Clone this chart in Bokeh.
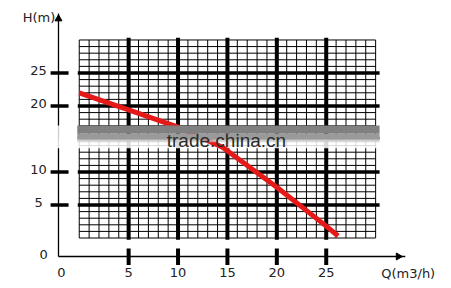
from bokeh.plotting import figure
from bokeh.models import Range1d
from bokeh.core.properties import value
from bokeh.embed import file_html
from bokeh.resources import INLINE

# ---------------- data ----------------
flow_q = [0.0, 5.0, 10.0, 14.5, 20.0, 25.0, 26.2]
head_h = [22.0, 19.4, 16.8, 13.75, 7.7, 1.8, 0.3]
x_ticks = [5, 10, 15, 20, 25]
x_labels = ["5", "10", "15", "20", "25"]
y_ticks = [5, 10, 20, 25]
y_labels = ["5", "10", "20", "25"]
origin_label = "0"
grid_max = 30
major_step = 5
x_title = "Q(m3/h)"
y_title = "H(m)"
watermark = "trade.china.cn"

# ---------------- layout constants (data units) ----------------
AX_X = -2.1      # position of the drawn y axis line
AX_Y = -2.8      # position of the drawn x axis line
FONT = value("DejaVu Sans")
TXT = "#222222"

p = figure(width=451, height=288,
           x_range=Range1d(-7.97, 37.68), y_range=Range1d(-7.65, 35.98),
           output_backend="svg", toolbar_location=None,
           x_axis_location=None, y_axis_location=None,
           min_border=0, outline_line_color=None,
           background_fill_color="white", border_fill_color="white")
for g in p.grid:
    g.visible = False

# ---------------- grid ----------------
cells = list(range(0, grid_max + 1))
thin = [v for v in cells if v % major_step != 0 or v in (0, grid_max)]
thick = [v for v in cells if v % major_step == 0 and 0 < v < grid_max]

p.segment(x0=thin, y0=[0] * len(thin), x1=thin, y1=[grid_max] * len(thin),
          line_color="black", line_width=1)
p.segment(x0=[0] * len(thin), y0=thin, x1=[grid_max] * len(thin), y1=thin,
          line_color="black", line_width=1)
p.segment(x0=thick, y0=[-0.25] * len(thick), x1=thick, y1=[grid_max + 0.35] * len(thick),
          line_color="black", line_width=4)
p.segment(x0=[-0.15] * len(thick), y0=thick, x1=[grid_max + 0.4] * len(thick), y1=thick,
          line_color="black", line_width=3.5)

# ---------------- axes ----------------
p.segment(x0=[AX_X], y0=[AX_Y], x1=[AX_X], y1=[34.0], line_color="black", line_width=1.3)
p.segment(x0=[AX_X], y0=[AX_Y], x1=[33.0], y1=[AX_Y], line_color="black", line_width=1.3)
p.scatter(x=[AX_X], y=[33.2], marker="triangle", size=7, fill_color="black", line_color="black")
p.scatter(x=[32.3], y=[AX_Y], marker="triangle", angle=-1.5708, size=7,
          fill_color="black", line_color="black")

p.segment(x0=x_ticks, y0=[-1.6] * len(x_ticks), x1=x_ticks, y1=[-4.1] * len(x_ticks),
          line_color="black", line_width=4)
p.segment(x0=[-2.9] * len(y_ticks), y0=y_ticks, x1=[-1.08] * len(y_ticks), y1=y_ticks,
          line_color="black", line_width=3.5)

p.text(x=x_ticks, y=[-5.23] * len(x_ticks), text=x_labels, text_font=FONT,
       text_font_size="13px", text_align="center", text_baseline="middle", text_color=TXT)
p.text(x=[-4.12] * len(y_ticks), y=[t + 0.45 for t in y_ticks], text=y_labels, text_font=FONT,
       text_font_size="13px", text_align="center", text_baseline="middle", text_color=TXT)
p.text(x=[-1.8, -3.6], y=[-5.23, -2.5], text=[origin_label, origin_label], text_font=FONT,
       text_font_size="13px", text_align="center", text_baseline="middle", text_color=TXT)
p.text(x=[-4.07], y=[33.4], text=[y_title], text_font=FONT, text_font_size="13px",
       text_align="center", text_baseline="middle", text_color=TXT)
p.text(x=[33.3], y=[-5.4], text=[x_title], text_font=FONT, text_font_size="13px",
       text_align="center", text_baseline="middle", text_color=TXT)

# ---------------- watermark fade (under curve) ----------------
p.quad(left=[-3.2], right=[30.6], bottom=[13.6], top=[15.0],
       fill_color="white", fill_alpha=0.85, line_color=None)
p.quad(left=[-3.2], right=[-0.3], bottom=[15.0], top=[17.05],
       fill_color="white", fill_alpha=0.8, line_color=None)

# ---------------- curve ----------------
p.line(x=flow_q, y=head_h, line_color="#e61919", line_width=5)

# ---------------- watermark band ----------------
p.quad(left=[-0.2], right=[30.4], bottom=[15.8], top=[17.05],
       fill_color="#808080", fill_alpha=1.0, line_color=None)
p.quad(left=[-0.2], right=[30.4], bottom=[14.9], top=[15.8],
       fill_color="#9a9a9a", fill_alpha=1.0, line_color=None)
p.quad(left=[-0.2], right=[30.4], bottom=[14.5], top=[14.9],
       fill_color="#c8c8c8", fill_alpha=0.7, line_color=None)
p.text(x=[14.9], y=[14.7], text=[watermark], text_font=value("Liberation Sans"),
       text_font_size="19px", text_align="center", text_baseline="alphabetic",
       text_color="#2a2a2a", text_alpha=1.0)

open("out.html", "w").write(file_html(p, INLINE))
